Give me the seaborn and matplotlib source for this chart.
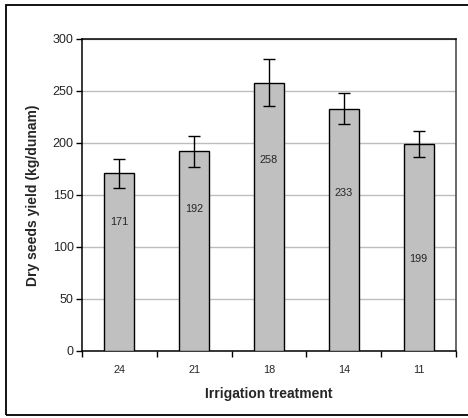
import numpy as np
import pandas as pd
import matplotlib
matplotlib.use("Agg")
import matplotlib.pyplot as plt
from matplotlib.patches import Rectangle
import seaborn as sns

treatments = ["24", "21", "18", "14", "11"]
yields = [171, 192, 258, 233, 199]
errors = [14, 15, 22.5, 15, 12.5]
label_heights = [124, 137, 184, 152, 88]

sns.set_style("white")
plt.rcParams["font.family"] = ["Liberation Sans", "DejaVu Sans"]

df = pd.DataFrame({"treatment": treatments, "yield": yields})

fig = plt.figure(figsize=(4.68, 4.18), dpi=100)
ax = fig.add_axes([0.1752, 0.1603, 0.7992, 0.7464])

sns.barplot(data=df, x="treatment", y="yield", order=treatments, errorbar=None,
            color="#C0C0C0", saturation=1, width=0.4, edgecolor="black",
            linewidth=1, ax=ax, zorder=3)

centers = [p.get_x() + p.get_width() / 2 for p in ax.patches]
ax.errorbar(centers, yields, yerr=errors, fmt="none", ecolor="black",
            elinewidth=1, capsize=4, capthick=1, zorder=4)

for xc, lh, v in zip(centers, label_heights, yields):
    ax.text(xc, lh, str(v), ha="center", va="center", fontsize=7.8, zorder=5)

ax.set_ylim(0, 300)
ax.set_xlim(-0.5, len(treatments) - 0.5)
ax.set_yticks(np.arange(0, 301, 50))
ax.yaxis.grid(True, color="#BDBDBD", linewidth=1)
ax.set_axisbelow(True)

ax.set_xticks(np.arange(-0.5, len(treatments)), minor=True)
ax.tick_params(axis="x", which="major", length=0, pad=10, labelsize=7.8)
ax.tick_params(axis="x", which="minor", length=4, width=1, direction="out",
               color="black")
ax.tick_params(axis="y", length=4, width=1, direction="out", color="black",
               labelsize=9, pad=2)
ax.xaxis.set_ticks_position("bottom")
ax.yaxis.set_ticks_position("left")

for side in ["left", "bottom", "top"]:
    ax.spines[side].set_color("black")
    ax.spines[side].set_linewidth(1.1)
ax.spines["right"].set_color("#404040")
ax.spines["right"].set_linewidth(1.1)

ax.set_xlabel("Irrigation treatment", fontsize=10, fontweight="bold", labelpad=9)
ax.set_ylabel("Dry seeds yield (kg/dunam)", fontsize=10, fontweight="bold",
              labelpad=9)

fig.patches.append(Rectangle((6 / 468, 3 / 418), 1.2, 410 / 418,
                             transform=fig.transFigure, fill=False,
                             edgecolor="black", linewidth=1.3))

fig.savefig("out.png", dpi=100)
